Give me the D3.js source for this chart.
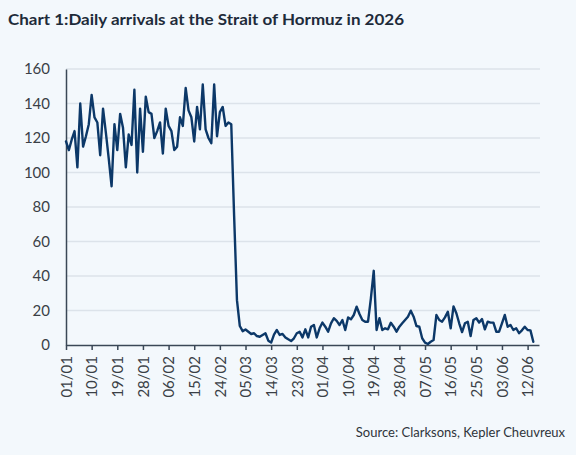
<!DOCTYPE html>
<html><head><meta charset="utf-8">
<script src="https://cdn.jsdelivr.net/npm/d3@7"></script>
<style>
html,body{margin:0;padding:0;background:#f3f8fc;}
svg{display:block;}
</style></head>
<body>
<svg id="chart" width="576" height="455"></svg>
<script>
// ---- data ----
const title = "Chart 1:Daily arrivals at the Strait of Hormuz in 2026";
const source = "Source: Clarksons, Kepler Cheuvreux";
const startDate = "2026-01-01";
const endDate = "2026-06-16";
const dailyArrivals = [
  118,113,119,124,103,140,115,121,128,145,
  132,129,110,137,123,108,92,128,113,134,
  126,103,122,116,148,100,137,112,144,135,
  134,120,124,129,111,137,127,124,113,115,
  132,127,149,136,132,118,138,125,151,125,
  120,117,151,121,135,138,127,129,128,75,
  26,11,8,9,7.7,6.4,6.8,5.2,4.8,5.8,
  6.8,2.5,1.4,6,8.7,5.8,6.4,4.4,3.3,2.3,
  3.9,6.8,7.7,4.4,9.1,4.4,10.6,11.6,4.4,9.7,
  13,10.6,7.7,12.5,15.5,14,11.6,14.5,8.7,16,
  14.9,17.4,22.2,18,14.5,13.5,13.5,27,43,8.7,
  15.5,8.7,9.7,9.1,12.9,10.6,7.7,10.6,12.6,14.5,
  16.4,19.9,16.4,11,10.6,3.9,1.4,0.6,1.9,2.9,
  17.4,14.5,13.5,16,19.3,9.7,22.4,18.4,12.6,7.5,
  12.6,13.5,5.2,14.5,15.5,13,15,9.1,13.5,13,
  13,7.7,7.7,12.6,17.4,10.6,11.6,8.7,9.7,6.8,
  8.5,10.6,8.7,8.5,1.9
];
const xTickLabels = ["01/01","10/01","19/01","28/01","06/02","15/02","24/02","05/03","14/03",
  "23/03","01/04","10/04","19/04","28/04","07/05","16/05","25/05","03/06","12/06"];
const yTicks = [0,20,40,60,80,100,120,140,160];

// ---- chart ----
(function(){
const svg = d3.select("#chart");
const parse = d3.utcParse("%Y-%m-%d");
const t0 = parse(startDate);
const data = dailyArrivals.map((v,i)=>({date:d3.utcDay.offset(t0,i), value:v}));
const tickDates = xTickLabels.map(s=>{const [d,m]=s.split("/"); return parse(`2026-${m}-${d}`);});

const mL=66, mR=539, mT=69, mB=345;
const x = d3.scaleUtc().domain([t0, parse(endDate)]).range([mL,mR]);
const y = d3.scaleLinear().domain([0,160]).range([mB,mT]);

const font = "Lato, 'Open Sans', sans-serif";

svg.append("text").attr("x",8).attr("y",25)
  .attr("font-family",font).attr("font-weight","bold").attr("font-size",16)
  .attr("fill","#1e2b3a").attr("textLength",396).attr("lengthAdjust","spacingAndGlyphs")
  .text(title);

// gridlines
svg.append("g").selectAll("line").data(yTicks.filter(d=>d>0)).join("line")
  .attr("x1",mL).attr("x2",mR+1).attr("y1",d=>y(d)).attr("y2",d=>y(d))
  .attr("stroke","#dce3ea").attr("stroke-width",1.6);

// y axis
const yAxis = svg.append("g").attr("transform",`translate(${mL},0)`)
  .call(d3.axisLeft(y).tickValues(yTicks).tickSize(0).tickPadding(16));
yAxis.select(".domain").attr("stroke","#3a4756").attr("stroke-width",1.5);
yAxis.selectAll("text").attr("font-family",font).attr("font-size",15).attr("fill","#3a3f46");

// x axis
const xAxis = svg.append("g").attr("transform",`translate(0,${mB})`)
  .call(d3.axisBottom(x).tickValues(tickDates).tickFormat((d,i)=>xTickLabels[i]).tickSize(5).tickSizeOuter(0));
xAxis.select(".domain").attr("stroke","#3a4756").attr("stroke-width",1.6);
xAxis.selectAll(".tick line").attr("stroke","#3a4756").attr("stroke-width",1.5);
xAxis.selectAll("text").attr("font-family",font).attr("font-size",15).attr("fill","#3a3f46")
  .attr("transform","rotate(-90)").attr("text-anchor","end")
  .attr("x",-11).attr("y",0).attr("dy","0.35em");

// line
svg.append("path").datum(data)
  .attr("fill","none").attr("stroke","#0c3868").attr("stroke-width",2.4)
  .attr("stroke-linejoin","round").attr("stroke-linecap","round")
  .attr("d", d3.line().x(d=>x(d.date)).y(d=>y(d.value)));

svg.append("text").attr("x",565).attr("y",437).attr("text-anchor","end")
  .attr("font-family",font).attr("font-size",13).attr("fill","#2f343a")
  .text(source);
})();
</script>
</body></html>
